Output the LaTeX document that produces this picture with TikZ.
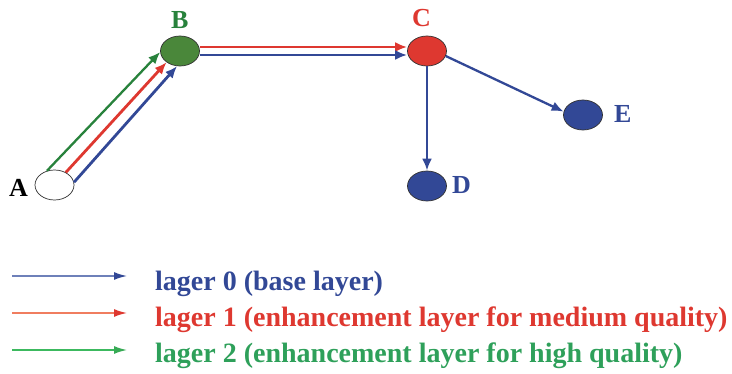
\documentclass[tikz,border=0pt]{standalone}
\usepackage{fontspec}
\setmainfont{Liberation Serif}
\usetikzlibrary{arrows.meta,shapes.geometric}
\definecolor{lblue}{RGB}{50,72,150}
\definecolor{lred}{RGB}{222,56,48}
\definecolor{lgreen}{RGB}{40,130,60}
\definecolor{bfill}{RGB}{74,135,58}
\definecolor{legblue}{RGB}{110,128,185}
\definecolor{legred}{RGB}{240,125,95}
\definecolor{leggreen}{RGB}{60,185,95}
\definecolor{headgreen}{RGB}{55,170,85}
\definecolor{txtgreen}{RGB}{46,160,90}
\definecolor{outl}{RGB}{50,50,50}
\begin{document}
\begin{tikzpicture}[x=1pt,y=-1pt,
  vert/.style={ellipse,draw=outl,line width=0.7pt,minimum width=39pt,minimum height=30pt,inner sep=0pt},
  lbl/.style={anchor=base west,inner sep=0pt,font=\fontsize{26}{28}\selectfont\bfseries},
  edge/.style={line width=2.8pt,-{Latex[length=12pt,width=10pt]}},
  legline/.style={line width=1.6pt},
  legtext/.style={anchor=base west,inner sep=0pt,font=\fontsize{28}{30}\selectfont\bfseries}]
\useasboundingbox (0,0) rectangle (732,374);
% vertices
\node[vert,fill=white] (A) at (54.5,185) {};
\node[vert,fill=bfill] (B) at (180,51) {};
\node[vert,fill=lred] (C) at (427,51) {};
\node[vert,fill=lblue] (D) at (427,186) {};
\node[vert,fill=lblue] (E) at (583,115) {};
% labels
\node[lbl,text=black] (lA) at (9,197) {A};
\node[lbl,text=lgreen] (lB) at (171,29) {B};
\node[lbl,text=lred] (lC) at (412,27) {C};
\node[lbl,text=lblue] (lD) at (452,194) {D};
\node[lbl,text=lblue] (lE) at (614,123) {E};
% edges A->B
\draw[edge,lgreen,line width=2.3pt] (A.118) -- (B.183);
\draw[edge,lred] (A.48) -- (B.220);
\draw[edge,lblue] (A.8) -- (B.259);
% edges B->C
\draw[edge,lred] ([yshift=4pt]B.east) -- ([yshift=4pt]C.west);
\draw[edge,lblue] ([yshift=-4pt]B.east) -- ([yshift=-4pt]C.west);
% edges C->D, C->E
\draw[edge,lblue] (C) -- (D);
\draw[edge,lblue,line width=2.3pt] (C.-15) -- (E.170);
% legend
\coordinate (s0) at (12,276);
\coordinate (e0) at (127,276);
\coordinate (s1) at (12,313);
\coordinate (e1) at (127,313);
\coordinate (s2) at (12,350);
\coordinate (e2) at (127,350);
\draw[legline,legblue,-{Latex[length=13pt,width=8pt,color=lblue]}] (s0) -- (e0);
\draw[legline,legred,-{Latex[length=13pt,width=8pt,color=lred]}] (s1) -- (e1);
\draw[legline,leggreen,-{Latex[length=13pt,width=8pt,color=headgreen]}] (s2) -- (e2);
\node[legtext,text=lblue] (t0) at (155,291) {lager 0 (base layer)};
\node[legtext,text=lred] (t1) at (155,327) {lager 1 (enhancement layer for medium quality)};
\node[legtext,text=txtgreen] (t2) at (155,363) {lager 2 (enhancement layer for high quality)};
\end{tikzpicture}
\end{document}
